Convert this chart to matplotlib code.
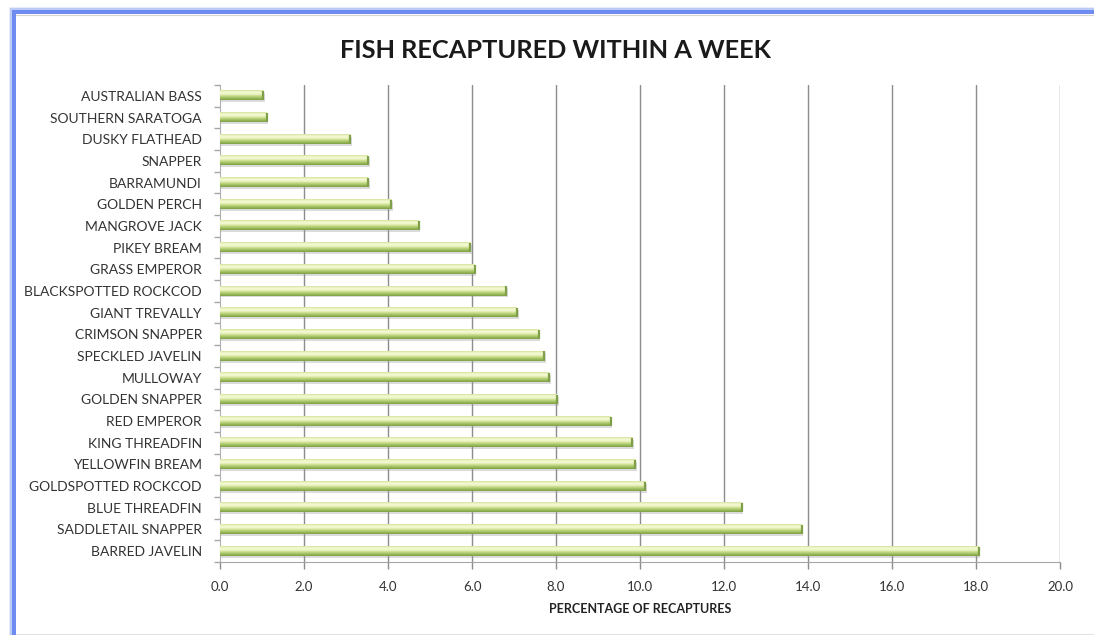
import numpy as np
import matplotlib
matplotlib.use("Agg")
import matplotlib.pyplot as plt
from matplotlib.colors import LinearSegmentedColormap
from matplotlib.lines import Line2D

plt.rcParams['font.family'] = ['Lato', 'DejaVu Sans']

# species listed top to bottom as shown on the chart
species = [
    "AUSTRALIAN BASS", "SOUTHERN SARATOGA", "DUSKY FLATHEAD", "SNAPPER",
    "BARRAMUNDI", "GOLDEN PERCH", "MANGROVE JACK", "PIKEY BREAM",
    "GRASS EMPEROR", "BLACKSPOTTED ROCKCOD", "GIANT TREVALLY",
    "CRIMSON SNAPPER", "SPECKLED JAVELIN", "MULLOWAY", "GOLDEN SNAPPER",
    "RED EMPEROR", "KING THREADFIN", "YELLOWFIN BREAM",
    "GOLDSPOTTED ROCKCOD", "BLUE THREADFIN", "SADDLETAIL SNAPPER",
    "BARRED JAVELIN",
]
recapture_pct = [
    1.03, 1.11, 3.10, 3.52,
    3.52, 4.08, 4.73, 5.96,
    6.06, 6.82, 7.07,
    7.59, 7.71, 7.83, 8.02,
    9.30, 9.81, 9.89,
    10.13, 12.42, 13.85,
    18.06,
]
x_ticks = [0, 2, 4, 6, 8, 10, 12, 14, 16, 18, 20]

fig = plt.figure(figsize=(10.94, 6.35), dpi=100)
ax = fig.add_axes([220 / 1094, 1 - 562 / 635, 840 / 1094, 477 / 635])

n = len(species)
ypos = np.arange(n)[::-1]  # first species at the top
bar_h = 0.42

# glossy green gradient, top row first
bar_cmap = LinearSegmentedColormap.from_list(
    "gloss", ["#d4e29c", "#f4f9d4", "#eef6c6", "#c4da86", "#9dbd5e", "#7e9f45"])
grad = np.linspace(0, 1, 64).reshape(-1, 1)

for y, v in zip(ypos, recapture_pct):
    # soft drop shadow under each bar
    ax.barh(y - 0.09, v + 0.04, height=bar_h, left=0, color="#9a9a9a",
            alpha=0.35, lw=0, zorder=2)
    ax.imshow(grad, cmap=bar_cmap, aspect="auto", origin="upper",
              extent=(0, v, y - bar_h / 2, y + bar_h / 2), zorder=3,
              interpolation="bilinear")
    ax.plot([v, v], [y - bar_h / 2, y + bar_h / 2], color="#7f9f48",
            lw=1.6, zorder=4, solid_capstyle="butt")

ax.set_xlim(0, 20)
ax.set_ylim(-0.5, n - 0.5)

ax.set_xticks(x_ticks)
ax.set_xticklabels([f"{t:.1f}" for t in x_ticks], fontsize=9.5, color="#333333")
ax.set_yticks(ypos)
ax.set_yticklabels(species, fontsize=10, color="#333333")
ax.set_yticks(np.arange(n + 1) - 0.5, minor=True)
ax.tick_params(axis="y", which="major", length=0, pad=13)
ax.tick_params(axis="y", which="minor", length=4, color="#a6a6a6", width=1)
ax.tick_params(axis="x", which="major", length=5, color="#8c8c8c", width=1, pad=9)

for x in x_ticks[1:]:
    ax.axvline(x, color="#8c8c8c", lw=1, zorder=1)

for side in ("top", "right"):
    ax.spines[side].set_visible(False)
ax.spines["left"].set_color("#b0b0b0")
ax.spines["bottom"].set_color("#a6a6a6")

ax.set_xlabel("PERCENTAGE OF RECAPTURES", fontsize=9, fontweight="bold",
              color="#222222", labelpad=7)

fig.text(555 / 1094, 1 - 51 / 635, "FISH RECAPTURED WITHIN A WEEK",
         fontsize=18.3, fontweight="bold", color="#1a1a1a",
         ha="center", va="center")

# blue window frame along the top and left edges
W, H = 1094, 635
def px(x, y):
    return x / W, 1 - y / H

for off, col, lw in [(-4, "#e6ebfc", 2), (-2.5, "#bccaf7", 2), (0, "#6d8bf0", 4)]:
    x0, y0 = px(13.5 + off, 11.5 + off)
    x1, _ = px(W, 0)
    _, y1 = px(0, H)
    fig.add_artist(Line2D([x0, x1], [y0, y0], color=col, lw=lw * 0.72,
                          transform=fig.transFigure))
    fig.add_artist(Line2D([x0, x0], [y0, y1], color=col, lw=lw * 0.72,
                          transform=fig.transFigure))
xg, yg = px(16, 14.5)
fig.add_artist(Line2D([xg, 1], [yg, yg], color="#d6d6d6", lw=0.8,
                      transform=fig.transFigure))
xb, yb = px(16, 633.5)
fig.add_artist(Line2D([xb, 1], [yb, yb], color="#e2e2e2", lw=0.8,
                      transform=fig.transFigure))

fig.savefig("out.png", dpi=100, facecolor="white")
